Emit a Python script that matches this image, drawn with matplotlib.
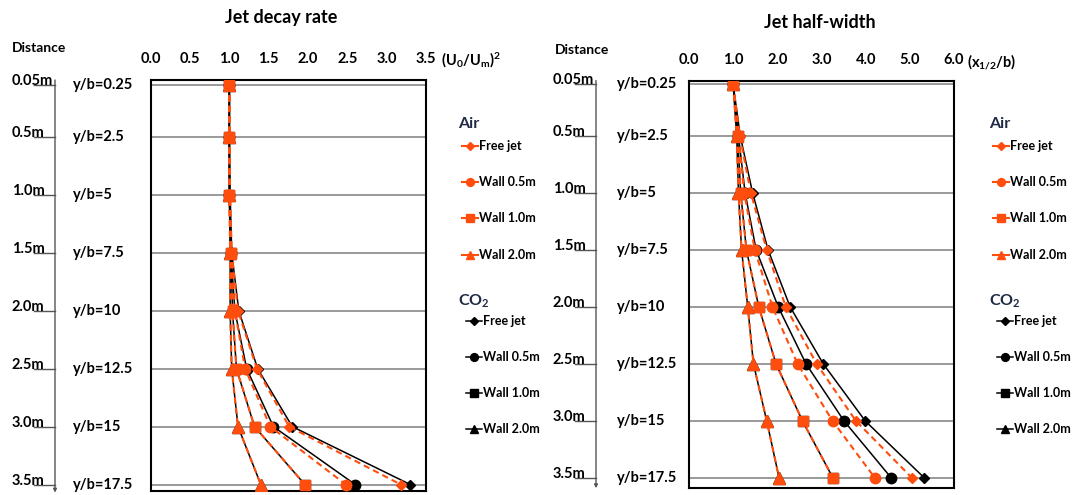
import matplotlib
matplotlib.use('Agg')
import matplotlib.pyplot as plt
from matplotlib.lines import Line2D
from matplotlib.transforms import blended_transform_factory

plt.rcParams['font.family'] = ['Lato', 'DejaVu Sans']
plt.rcParams['font.weight'] = 'bold'
plt.rcParams['mathtext.default'] = 'regular'

## data
yb = [0.25, 2.5, 5, 7.5, 10, 12.5, 15, 17.5]
yb_labels = ['y/b=0.25', 'y/b=2.5', 'y/b=5', 'y/b=7.5', 'y/b=10', 'y/b=12.5', 'y/b=15', 'y/b=17.5']
dist_labels = ['0.05m', '0.5m', '1.0m', '1.5m', '2.0m', '2.5m', '3.0m', '3.5m']
series_names = ['Free jet', 'Wall 0.5m', 'Wall 1.0m', 'Wall 2.0m']

# jet decay rate (U0/Um)^2
decay_air_free = [1.0, 1.0, 1.01, 1.03, 1.11, 1.35, 1.76, 3.18]
decay_air_w05 = [1.0, 1.0, 1.0, 1.02, 1.07, 1.20, 1.52, 2.48]
decay_air_w10 = [1.0, 1.0, 1.0, 1.02, 1.04, 1.09, 1.32, 1.96]
decay_air_w20 = [1.0, 1.0, 1.0, 1.01, 1.01, 1.03, 1.11, 1.40]
decay_co2_free = [1.0, 1.0, 1.01, 1.03, 1.12, 1.36, 1.80, 3.30]
decay_co2_w05 = [1.0, 1.0, 1.0, 1.02, 1.07, 1.22, 1.56, 2.60]
decay_co2_w10 = [1.0, 1.0, 1.0, 1.02, 1.04, 1.09, 1.32, 1.96]
decay_co2_w20 = [1.0, 1.0, 1.0, 1.01, 1.01, 1.03, 1.11, 1.40]

# jet half-width x1/2/b
hw_air_free = [1.0, 1.15, 1.40, 1.76, 2.19, 2.89, 3.78, 5.05]
hw_air_w05 = [1.0, 1.12, 1.25, 1.49, 1.89, 2.46, 3.25, 4.21]
hw_air_w10 = [1.0, 1.10, 1.17, 1.30, 1.58, 1.97, 2.57, 3.26]
hw_air_w20 = [1.0, 1.08, 1.12, 1.19, 1.33, 1.46, 1.76, 2.04]
hw_co2_free = [1.0, 1.16, 1.44, 1.79, 2.29, 3.04, 3.99, 5.33]
hw_co2_w05 = [1.0, 1.12, 1.27, 1.52, 2.02, 2.65, 3.51, 4.58]
hw_co2_w10 = [1.0, 1.10, 1.17, 1.30, 1.58, 1.97, 2.57, 3.26]
hw_co2_w20 = [1.0, 1.08, 1.12, 1.19, 1.33, 1.46, 1.76, 2.04]

decay_ticks = [0.0, 0.5, 1.0, 1.5, 2.0, 2.5, 3.0, 3.5]
hw_ticks = [0.0, 1.0, 2.0, 3.0, 4.0, 5.0, 6.0]

ORANGE = '#FF4D0D'
markers = ['D', 'o', 's', '^']
msizes = [5.5, 7.5, 7, 8]

W, H = 1075, 495
fig = plt.figure(figsize=(W / 100, H / 100), dpi=100)


def fx(px):
    return px / W


def fy(py):
    return 1 - py / H


def panel(rect, xlim, ylim, ticks, air, co2, title, title_xy, unit, unit_xy,
          dist_x, dist_xy, label_x, legend_x, axis_bottom):
    ax = fig.add_axes(rect)
    for v in yb:
        ax.axhline(v, color='#7f7f7f', lw=1.1, zorder=1)
    for i in range(4):
        ax.plot(co2[i], yb, color='black', lw=1.1, marker=markers[i],
                ms=msizes[i], zorder=3)
    for i in range(4):
        ax.plot(air[i], yb, color=ORANGE, lw=1.5, ls=(0, (3, 2)),
                marker=markers[i], ms=msizes[i], zorder=4)
    ax.set_xlim(xlim)
    ax.set_ylim(ylim)
    ax.xaxis.tick_top()
    ax.set_xticks(ticks)
    ax.set_xticklabels(['%.1f' % t for t in ticks], fontweight='bold')
    ax.tick_params(axis='x', length=0, pad=10, labelsize=10.5)
    ax.set_yticks([])
    for s in ax.spines.values():
        s.set_linewidth(1.5)
        s.set_color('black')

    fig.text(fx(title_xy[0]), fy(title_xy[1]), title, ha='center', va='center',
             fontsize=13, fontweight='bold')
    fig.text(fx(unit_xy[0]), fy(unit_xy[1]), unit, ha='left', va='center',
             fontsize=10.5, fontweight='bold')
    fig.text(fx(dist_xy[0]), fy(dist_xy[1]), 'Distance', ha='left', va='center',
             fontsize=10, fontweight='bold')

    # distance axis on the left
    tr = blended_transform_factory(fig.transFigure, ax.transData)
    ax.annotate('', xy=(fx(dist_x), axis_bottom), xytext=(fx(dist_x), ylim[1]),
                xycoords=tr, textcoords=tr,
                arrowprops=dict(arrowstyle='-|>', color='#555555', lw=1.0,
                                mutation_scale=5, shrinkA=0, shrinkB=0))
    for v, dl, lab in zip(yb, dist_labels, yb_labels):
        ax.plot([fx(dist_x - 21), fx(dist_x)], [v, v], color='#555555', lw=1.0,
                transform=tr, clip_on=False)
        ax.text(fx(dist_x - 43), v, dl, transform=tr, ha='left', va='baseline',
                fontsize=10.5, fontweight='bold')
        ax.text(fx(label_x), v, lab, transform=tr, ha='left', va='center',
                fontsize=10.5, fontweight='bold')

    # legend, drawn by hand so the rows sit where they do in the picture
    lx = legend_x
    fig.text(fx(lx), fy(124), 'Air', ha='left', va='center', fontsize=11.5,
             fontweight='bold', color='#1f2a44')
    fig.text(fx(lx), fy(301), 'CO$_2$', ha='left', va='center', fontsize=11.5,
             fontweight='bold', color='#1f2a44')
    air_rows = [146, 182, 218, 255]
    co2_rows = [321, 357, 393, 429]
    for i, name in enumerate(series_names):
        y = fy(air_rows[i])
        fig.add_artist(Line2D([fx(lx + 4), fx(lx + 20)], [y, y], color=ORANGE, lw=1.5,
                              transform=fig.transFigure))
        fig.add_artist(Line2D([fx(lx + 12)], [y], color=ORANGE, marker=markers[i],
                              ms=msizes[i] * 0.75, transform=fig.transFigure))
        fig.text(fx(lx + 21), y, name, ha='left', va='center', fontsize=9,
                 fontweight='bold')
        y = fy(co2_rows[i])
        fig.add_artist(Line2D([fx(lx + 8), fx(lx + 24)], [y, y], color='black', lw=1.1,
                              transform=fig.transFigure))
        fig.add_artist(Line2D([fx(lx + 16)], [y], color='black', marker=markers[i],
                              ms=msizes[i] * 0.75, transform=fig.transFigure))
        fig.text(fx(lx + 25), y, name, ha='left', va='center', fontsize=9,
                 fontweight='bold')
    return ax


panel([fx(150.7), fy(491), fx(275.3), 411 / H], (0, 3.5), (17.78, 0.034), decay_ticks,
      [decay_air_free, decay_air_w05, decay_air_w10, decay_air_w20],
      [decay_co2_free, decay_co2_w05, decay_co2_w10, decay_co2_w20],
      'Jet decay rate', (281, 18), '(U$_0$/U$_m$)$^2$', (441, 60),
      55, (12, 48), 73, 458, 17.85)

panel([fx(689), fy(488), fx(265), 407.5 / H], (0, 6.0), (17.94, 0.075), hw_ticks,
      [hw_air_free, hw_air_w05, hw_air_w10, hw_air_w20],
      [hw_co2_free, hw_co2_w05, hw_co2_w10, hw_co2_w20],
      'Jet half-width', (820, 22), '(x$_{1/2}$/b)', (967, 62),
      596, (555, 50), 617, 989, 17.95)

fig.savefig('out.png', dpi=100)
